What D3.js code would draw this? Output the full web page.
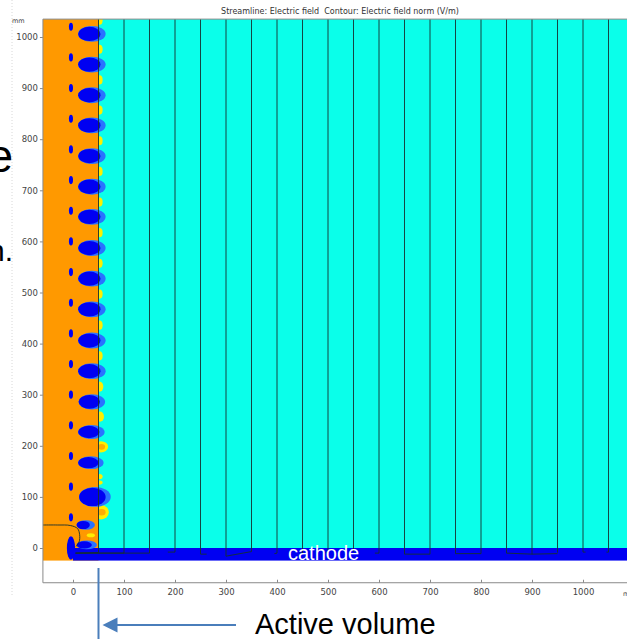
<!DOCTYPE html>
<html>
<head>
<meta charset="utf-8">
<script src="https://cdn.jsdelivr.net/npm/d3@7"></script>
<style>
  body { margin: 0; background: #fff; }
  svg { display: block; }
</style>
</head>
<body>
<svg id="chart" width="627" height="639"></svg>
<script>
// axis ticks (mm)
const xTicks = [0, 100, 200, 300, 400, 500, 600, 700, 800, 900, 1000]
const yTicks = [0, 100, 200, 300, 400, 500, 600, 700, 800, 900, 1000]
const xDomain = [-59, 1090]
const yDomain = [-68, 1035]
const cathodeY = [-25, 0]
const boundaryX = 50

// high field blobs along the wires (mm)
const blobY  = [1006, 946, 886, 827, 767, 707, 648, 587, 527, 467, 406, 346, 286, 227, 167, 100, 45, 6]
const blobX  = [32, 32, 32, 32, 32, 32, 32, 32, 32, 32, 32, 32, 32, 31, 30, 38, 20, 22]
const blobRx = [22, 22, 22, 22, 22, 22, 22, 22, 22, 22, 22, 22, 21, 21, 20, 26, 13, 15]
const blobRy = [14, 14, 14, 14, 14, 14, 14, 14, 14, 14, 14, 14, 13.5, 12, 11, 18, 8, 7]

// small field minima left of the blobs
const dotY = [1020, 960, 900, 840, 780, 720, 660, 600, 540, 480, 420, 360, 300, 240, 180, 120, 60]

// yellow glow just right of the boundary
const glowY  = [1033, 976, 916, 857, 797, 737, 677, 617, 557, 497, 436, 376, 316, 257, 198, 140, 128, 70]
const glowRx = [6, 6, 6, 6, 6, 6, 6, 6, 6, 6, 6, 6, 7, 8, 14, 6, 6, 15]
const glowRy = [9, 9, 9, 9, 9, 9, 9, 9, 9, 9, 9, 9, 10, 10, 11, 5, 4, 14]
const coreY = [198, 70]
const coreR = [7, 8]

// streamlines (mm): x position, where they end in the cathode, hook end
const streamX     = [50, 100, 150, 200, 250, 300, 350, 400, 450, 500, 550, 600, 650, 700, 750, 800, 850, 900, 950, 1000, 1050]
const streamEndY  = [-9, -10, -10, -8, -12, -16, -7, -10, -10, -9, -8, -10, -12, -12, -11, -11, -10, -12, -9, -8, -8]
const streamHookX = [5, 5, 5, 186, 262, 350, 350, 395, 445, 495, 550, 592, 700, 700, 800, 800, 900, 950, 950, 1005, 1046]
const streamHookY = [-10, -10, -10, -8, -12, -7, -7, -11, -10, -9, -8, -10, -12, -12, -11, -11, -12, -11, -9, -8, -8]
const leftStream = [[-59, 45], [-30, 45], [-5, 44], [9, 38], [13, 26], [12, 12], [6, 3]]

const svg = d3.select("#chart")
const x = d3.scaleLinear().domain([0, 1000]).range([73, 583])
const y = d3.scaleLinear().domain([0, 1000]).range([548, 37])

const orange = "#ff9900", cyan = "#0affea", blue = "#0000f2", halo = "#2a72ff", yellow = "#ffee00"

// slide border (dotted)
svg.append("line")
  .attr("x1", 12).attr("x2", 12).attr("y1", 0).attr("y2", 597)
  .attr("stroke", "#d8d8d8").attr("stroke-dasharray", "1,2")

// slide text cut off on the left
svg.append("text").attr("x", 13).attr("y", 172).attr("text-anchor", "end")
  .attr("font-family", "Liberation Sans, Arial, sans-serif").attr("font-size", 46).text("e")
svg.append("text").attr("x", 13).attr("y", 261).attr("text-anchor", "end")
  .attr("font-family", "Liberation Sans, Arial, sans-serif").attr("font-size", 30).text("n.")

svg.append("defs").append("clipPath").attr("id", "plot")
  .append("rect")
  .attr("x", x(xDomain[0])).attr("y", y(yDomain[1]))
  .attr("width", x(xDomain[1]) - x(xDomain[0]))
  .attr("height", y(cathodeY[0]) - y(yDomain[1]))

const field = svg.append("g").attr("clip-path", "url(#plot)")

field.append("rect")
  .attr("x", x(boundaryX)).attr("y", y(yDomain[1]))
  .attr("width", x(xDomain[1]) - x(boundaryX)).attr("height", y(0) - y(yDomain[1]))
  .attr("fill", cyan)

field.append("g").selectAll("ellipse")
  .data(glowY)
  .join("ellipse")
  .attr("cx", (d, i) => x(boundaryX + glowRx[i] * 0.35))
  .attr("cy", d => y(d))
  .attr("rx", (d, i) => x(glowRx[i]) - x(0))
  .attr("ry", (d, i) => y(0) - y(glowRy[i]))
  .attr("fill", yellow)

field.append("g").selectAll("ellipse")
  .data(coreY)
  .join("ellipse")
  .attr("cx", x(boundaryX + 6))
  .attr("cy", d => y(d))
  .attr("rx", (d, i) => x(coreR[i]) - x(0))
  .attr("ry", (d, i) => y(0) - y(coreR[i] * 0.8))
  .attr("fill", "#ffae00")

field.append("rect")
  .attr("x", x(xDomain[0])).attr("y", y(yDomain[1]))
  .attr("width", x(boundaryX) - x(xDomain[0])).attr("height", y(cathodeY[0]) - y(yDomain[1]))
  .attr("fill", orange)

field.append("rect")
  .attr("x", x(0)).attr("y", y(0))
  .attr("width", x(xDomain[1]) - x(0)).attr("height", y(cathodeY[0]) - y(0))
  .attr("fill", blue)

// small glow inside the drift region near the cathode corner
field.append("ellipse")
  .attr("cx", x(35)).attr("cy", y(25))
  .attr("rx", x(8) - x(0)).attr("ry", y(0) - y(4))
  .attr("fill", yellow)

field.append("g").selectAll("ellipse")
  .data(blobY)
  .join("ellipse")
  .attr("cx", (d, i) => x(blobX[i] + 5))
  .attr("cy", d => y(d))
  .attr("rx", (d, i) => x(blobRx[i] + 5) - x(0))
  .attr("ry", (d, i) => y(0) - y(blobRy[i] + 1.5))
  .attr("fill", halo)

field.append("g").selectAll("ellipse")
  .data(blobY)
  .join("ellipse")
  .attr("cx", (d, i) => x(blobX[i]))
  .attr("cy", d => y(d))
  .attr("rx", (d, i) => x(blobRx[i]) - x(0))
  .attr("ry", (d, i) => y(0) - y(blobRy[i]))
  .attr("fill", blue)

field.append("g").selectAll("ellipse")
  .data(dotY)
  .join("ellipse")
  .attr("cx", x(-4))
  .attr("cy", d => y(d))
  .attr("rx", x(4) - x(0))
  .attr("ry", y(0) - y(8))
  .attr("fill", blue)

// wire end at the cathode corner
field.append("ellipse")
  .attr("cx", x(-4)).attr("cy", y(0))
  .attr("rx", x(8) - x(0)).attr("ry", y(0) - y(23))
  .attr("fill", blue)

const lines = field.append("g")
  .attr("fill", "none")
  .attr("stroke", "#163030")
  .attr("stroke-width", 0.9)

lines.selectAll("path")
  .data(streamX)
  .join("path")
  .attr("d", (d, i) => `M${x(d)},${y(yDomain[1])}V${y(streamEndY[i])}L${x(streamHookX[i])},${y(streamHookY[i])}`)

lines.append("path")
  .attr("d", d3.line().x(d => x(d[0])).y(d => y(d[1])).curve(d3.curveCatmullRom)(leftStream))

svg.append("text")
  .attr("x", 288).attr("y", 560)
  .attr("font-family", "Liberation Sans, Arial, sans-serif")
  .attr("font-size", 20)
  .attr("fill", "#fff")
  .text("cathode")

// frame and axes
svg.append("path")
  .attr("d", `M627,${y(yDomain[1])}H${x(xDomain[0])}V${y(yDomain[0])}H627`)
  .attr("fill", "none").attr("stroke", "#8a8a8a")

const fmt = d3.format("d")
const yAxis = svg.append("g")
  .attr("transform", `translate(${x(xDomain[0])},0)`)
  .call(d3.axisLeft(y).tickValues(yTicks).tickFormat(fmt).tickSize(3).tickPadding(2))
const xAxis = svg.append("g")
  .attr("transform", `translate(0,${y(yDomain[0])})`)
  .call(d3.axisBottom(x).tickValues(xTicks).tickFormat(fmt).tickSizeInner(-3).tickSizeOuter(0).tickPadding(6))

for (const axis of [xAxis, yAxis]) {
  axis.select(".domain").remove()
  axis.selectAll("line").attr("stroke", "#8a8a8a")
  axis.selectAll("text")
    .attr("font-family", "DejaVu Sans, sans-serif")
    .attr("font-size", 8.5)
    .attr("fill", "#444")
}

svg.append("text").attr("x", 12).attr("y", 23)
  .attr("font-family", "DejaVu Sans, sans-serif").attr("font-size", 6.5).attr("fill", "#444")
  .text("mm")
svg.append("text").attr("x", 623).attr("y", 596)
  .attr("font-family", "DejaVu Sans, sans-serif").attr("font-size", 6.5).attr("fill", "#444")
  .text("mm")

svg.append("text")
  .attr("x", 340).attr("y", 14)
  .attr("text-anchor", "middle")
  .attr("font-family", "DejaVu Sans, sans-serif")
  .attr("font-size", 8)
  .attr("fill", "#333")
  .style("white-space", "pre")
  .text("Streamline: Electric field\u00a0\u00a0Contour: Electric field norm (V/m)")

// "Active volume" annotation
const mark = "#4a7ebb"
svg.append("line")
  .attr("x1", x(boundaryX)).attr("x2", x(boundaryX))
  .attr("y1", 568).attr("y2", 639)
  .attr("stroke", mark).attr("stroke-width", 2)
svg.append("line")
  .attr("x1", 236).attr("x2", x(boundaryX) + 16)
  .attr("y1", 625).attr("y2", 625)
  .attr("stroke", mark).attr("stroke-width", 2.2)
svg.append("path")
  .attr("d", `M${x(boundaryX) + 4},625l15,-7.5v15z`)
  .attr("fill", mark)
svg.append("text")
  .attr("x", 255).attr("y", 634)
  .attr("font-family", "Liberation Sans, Arial, sans-serif")
  .attr("font-size", 29)
  .attr("fill", "#000")
  .text("Active volume")
</script>
</body>
</html>
